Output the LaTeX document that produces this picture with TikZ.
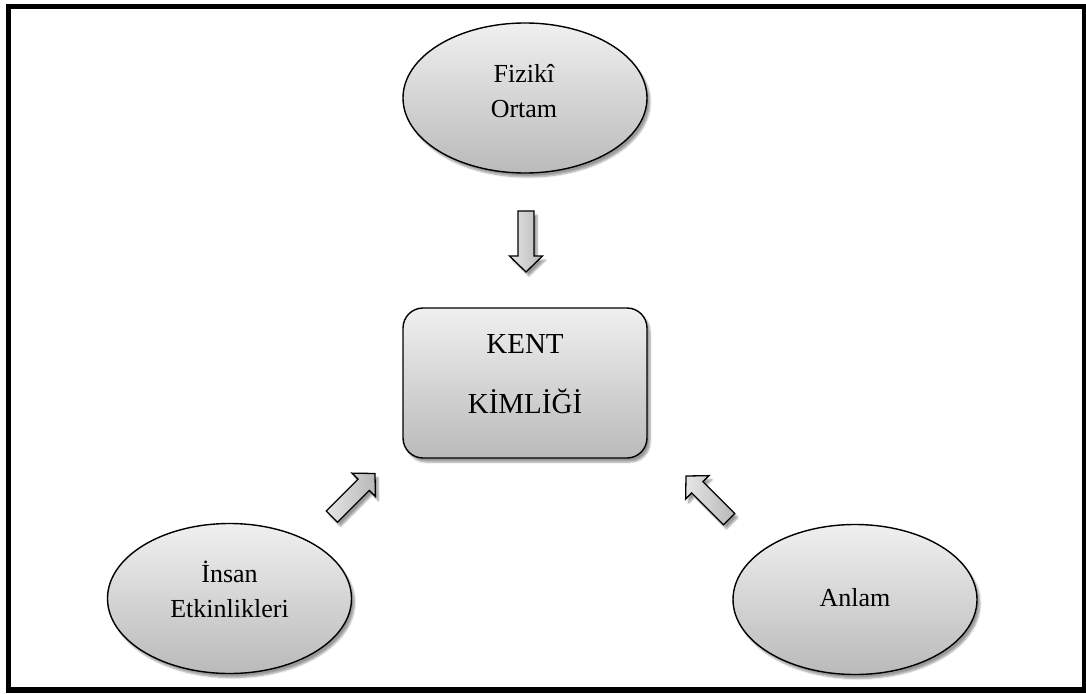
\documentclass[tikz,border=0pt]{standalone}
\usepackage{fontspec}
\setmainfont{Liberation Serif}
\usetikzlibrary{shapes.geometric,shadows.blur}
\tikzset{
  softshadow/.style={blur shadow={shadow xshift=3pt,shadow yshift=-4pt,shadow blur steps=6,shadow opacity=40}},
  ell/.style={ellipse,draw=black,line width=1.4pt,minimum width=244pt,minimum height=150pt,
    top color=black!6,bottom color=black!27,softshadow,inner sep=0pt},
  kbox/.style={rectangle,rounded corners=20pt,draw=black,line width=1.4pt,minimum width=244pt,minimum height=150pt,
    top color=black!6,bottom color=black!27,softshadow,inner sep=0pt},
  etxt/.style={anchor=base,inner sep=0pt,font=\fontsize{26}{30}\selectfont},
  ktxt/.style={anchor=base,inner sep=0pt,font=\fontsize{29}{34}\selectfont},
  barrowstyle/.style={draw=black,line width=1.3pt,line join=miter,left color=black!10,right color=black!28,softshadow},
  pics/barrow/.style={code={
    \draw[barrowstyle] (0,0) -- (-16,16.5) -- (-16,8) -- (-61,8) -- (-61,-8) -- (-16,-8) -- (-16,-16.5) -- cycle;
  }}
}
\begin{document}
\begin{tikzpicture}[x=1pt,y=-1pt]
\useasboundingbox (0,0) rectangle (1086,693);
\draw[line width=5.5pt] (8.5,6.5) rectangle (1085,690);
\node[ell] (fiz) at (525,98) {};
\node[etxt] (fizA) at (524,82) {Fizikî};
\node[etxt] (fizB) at (524,117) {Ortam};
\node[kbox] (kent) at (525,383) {};
\node[ktxt] (kentA) at (525,353) {KENT};
\node[ktxt] (kentB) at (525,413) {KİMLİĞİ};
\node[ell] (insan) at (229.5,598.5) {};
\node[etxt] (insanA) at (229.5,582) {İnsan};
\node[etxt] (insanB) at (229.5,617) {Etkinlikleri};
\node[ell] (anlam) at (855,599.5) {};
\node[etxt] (anlamA) at (855,606) {Anlam};
\coordinate (tipA) at (526,272);
\coordinate (tipB) at (375,473.5);
\coordinate (tipC) at (686,476);
\pic[rotate=-90] at (tipA) {barrow};
\pic[rotate=45] at (tipB) {barrow};
\pic[rotate=135] at (tipC) {barrow};
\end{tikzpicture}
\end{document}
